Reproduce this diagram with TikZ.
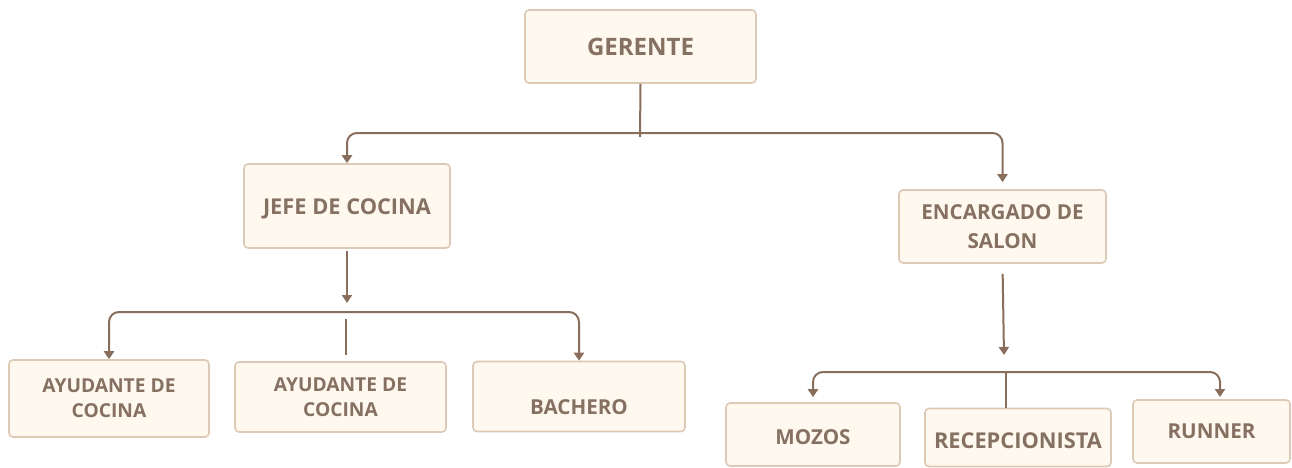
\documentclass[tikz,border=0pt]{standalone}
\usepackage{fontspec}
\setmainfont{Open Sans}
\usetikzlibrary{positioning}
\usetikzlibrary{arrows.meta}
\definecolor{crema}{HTML}{FFF8EF}
\definecolor{borde}{HTML}{DCCAB6}
\definecolor{cafe}{HTML}{8A6E5C}
\definecolor{letra}{HTML}{857062}
\newcommand{\bajar}[2]{\raisebox{-#1}[\height][\depth]{#2}}

\begin{document}
\begin{tikzpicture}[x=0.5pt,y=-0.5pt,
        puesto/.style={rectangle,rounded corners=2pt,draw=borde,fill=crema,line width=0.8pt,align=center,text=letra,font=\fontsize{10.3}{14.5}\selectfont\bfseries,inner sep=0pt},
        chico/.style={font=\fontsize{9.6}{12.5}\selectfont\bfseries},
        grande/.style={font=\fontsize{10.9}{14.5}\selectfont\bfseries},
        arr/.style={line width=1pt,draw=cafe,-{Triangle[width=5pt,length=4pt]}},
        lin/.style={line width=1pt,draw=cafe}
        ]
        \useasboundingbox (0,0) rectangle (1292,467);
        \node (ger) [puesto,minimum width=115.5pt,minimum height=36.5pt,font=\fontsize{12}{14}\selectfont\bfseries] at (640.5,46.5) {GERENTE};
        \node (jefe) [puesto,grande,minimum width=103pt,minimum height=42pt] at (347,206) {\bajar{1.5pt}{JEFE DE COCINA}};
        \node (enc) [puesto,minimum width=103.5pt,minimum height=36.5pt] at (1002.5,226.5) {ENCARGADO DE\\SALON};
        \node (ayu1) [puesto,chico,minimum width=100pt,minimum height=38.5pt] at (109,398.5) {AYUDANTE DE\\COCINA};
        \node (ayu2) [puesto,chico,minimum width=105.5pt,minimum height=35pt] at (340.5,397) {AYUDANTE DE\\COCINA};
        \node (bach) [puesto,minimum width=106pt,minimum height=35pt] at (579,396.5) {\bajar{5.2pt}{BACHERO}};
        \node (moz) [puesto,minimum width=87pt,minimum height=31.5pt] at (813,434.5) {\bajar{1.3pt}{MOZOS}};
        \node (rec) [puesto,grande,minimum width=93pt,minimum height=29pt] at (1018,437.5) {\bajar{1.7pt}{RECEPCIONISTA}};
        \node (run) [puesto,minimum width=78.5pt,minimum height=31.5pt] at (1211.5,431.5) {RUNNER};
        \coordinate (h1) at (640,133);
        \coordinate (r1) at (640,137);
        \coordinate (j1) at (347,303);
        \coordinate (h2) at (346,312);
        \coordinate (s1) at (346,319);
        \coordinate (s2) at (346,355);
        \coordinate (e1) at (1004,355);
        \coordinate (h3) at (1006,372);
        \coordinate (r2) at (1220,397);
        \draw[lin] (ger.south) -- (r1);
        \draw[arr,rounded corners=5pt] (h1) -| (jefe.north);
        \draw[arr,rounded corners=5pt,shorten >=3.5pt] (h1) -| (enc.north);
        \draw[arr,shorten <=1pt] (jefe.south) -- (j1);
        \draw[arr,rounded corners=5pt] (h2) -| (ayu1.north);
        \draw[arr,rounded corners=5pt] (h2) -| (bach.north);
        \draw[lin] (s1) -- (s2);
        \draw[arr,shorten <=5pt] (enc.south) -- (e1);
        \draw[arr,rounded corners=5pt,shorten >=2.5pt] (h3) -| (moz.north);
        \draw[arr,rounded corners=5pt] (h3) -| (r2);
        \draw[lin] (h3) -- (h3 |- rec.north);
    \end{tikzpicture}
\end{document}
